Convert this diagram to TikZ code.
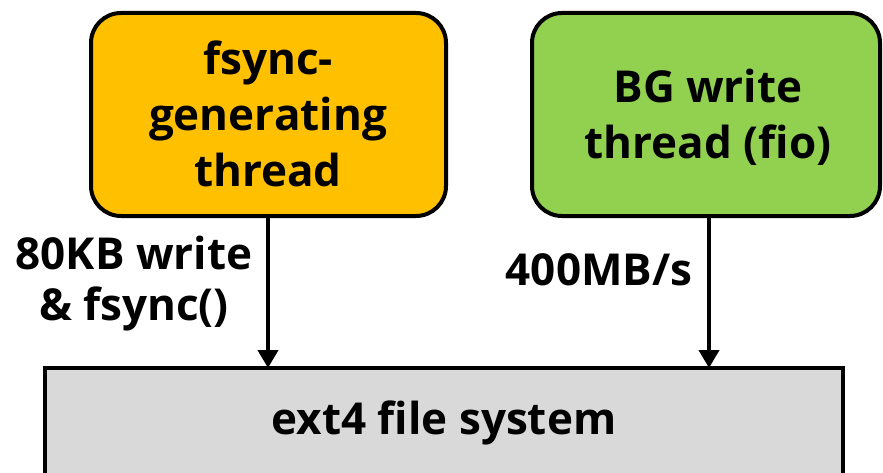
\documentclass[tikz,border=0pt]{standalone}
\usepackage{fontspec}
\setmainfont{Open Sans}[BoldFont={* Bold}]
\usetikzlibrary{arrows.meta}
\definecolor{threadorange}{HTML}{FFC000}
\definecolor{threadgreen}{HTML}{92D050}
\definecolor{fsgray}{HTML}{D9D9D9}
\tikzset{
  threadbox/.style={draw=black, line width=4pt, rounded corners=30pt},
  boxtext/.style={font=\bfseries\fontsize{44}{56}\selectfont, align=center},
  lbltext/.style={font=\bfseries\fontsize{44}{51}\selectfont, align=center},
  flow/.style={line width=4pt, -{Triangle[width=20pt,length=18pt]}}
}
\begin{document}
\begin{tikzpicture}[x=1pt,y=1pt]
  \useasboundingbox (0,0) rectangle (883,-473);
  \begin{scope}
    \clip (0,0) rectangle (883,-473);
    % file system layer (runs past the lower edge)
    \draw[fill=fsgray, line width=4pt] (45,-368) rectangle (843,-495);
  \end{scope}
  \coordinate (fsL) at (268,-368);
  \coordinate (fsR) at (709,-368);
  \node[boxtext] (fs) at (444,-423) {ext4 file system};

  % threads
  \draw[threadbox, fill=threadorange] (91,-13) rectangle (446,-216);
  \draw[threadbox, fill=threadgreen] (532,-13) rectangle (880,-216);
  \node[boxtext] (fg) at (268,-114) {fsync-\\generating\\thread};
  \node[boxtext] (bg) at (708,-117) {BG write\\thread (fio)};
  \coordinate (fgB) at (268,-216);
  \coordinate (bgB) at (709,-216);

  % I/O paths
  \draw[flow] (fgB) -- (fsL);
  \draw[flow] (bgB) -- (fsR);
  \node[lbltext] (l1) at (134,-284) {80KB write\\\& fsync()};
  \node[lbltext] (l2) at (599,-270) {400MB/s};
\end{tikzpicture}
\end{document}
